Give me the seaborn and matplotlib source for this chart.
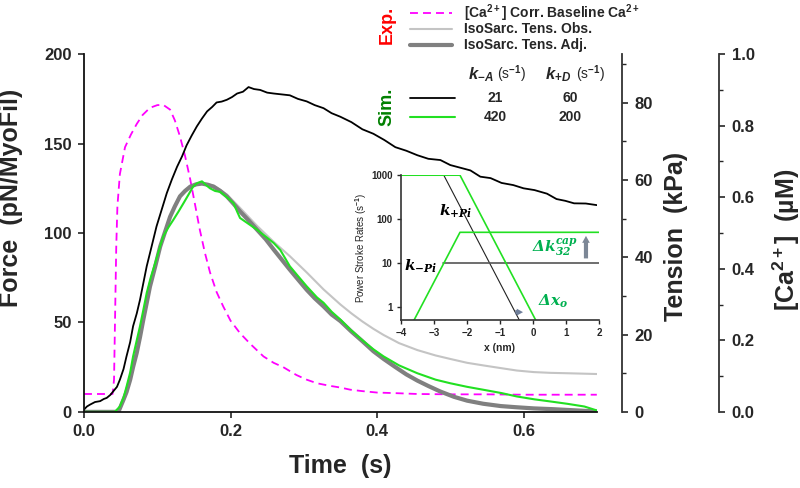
import seaborn as sns
import matplotlib.pyplot as plt
from matplotlib.lines import Line2D
from matplotlib.ticker import MultipleLocator, FixedLocator, FuncFormatter, FormatStrFormatter

# ---- experimental [Ca2+] (uM), baseline corrected ----
ca_time = [0, 0.039, 0.041, 0.044, 0.0456, 0.049, 0.056, 0.064, 0.072, 0.080, 0.090, 0.100, 0.108,
           0.1175, 0.124, 0.131, 0.138, 0.145, 0.152, 0.158, 0.165, 0.172, 0.181, 0.190, 0.200, 0.213,
           0.227, 0.245, 0.259, 0.272, 0.290, 0.304, 0.318, 0.335, 0.350, 0.3635, 0.38, 0.40, 0.43,
           0.455, 0.50, 0.55, 0.60, 0.65, 0.70]
ca_um = [0.05, 0.05, 0.09, 0.46, 0.575, 0.665, 0.74, 0.775, 0.805, 0.83, 0.85, 0.8575, 0.8585,
         0.845, 0.815, 0.77, 0.715, 0.65, 0.575, 0.51, 0.445, 0.39, 0.335, 0.295, 0.255, 0.22,
         0.19, 0.155, 0.137, 0.125, 0.103, 0.09, 0.08, 0.073, 0.068, 0.062, 0.058, 0.054, 0.052,
         0.05, 0.049, 0.049, 0.048, 0.048, 0.048]

# ---- experimental isometric tension (kPa) ----
obs_time = [0, 0.047, 0.054, 0.063, 0.072, 0.081, 0.090, 0.104, 0.1175, 0.131, 0.145, 0.161, 0.177,
            0.195, 0.213, 0.236, 0.259, 0.281, 0.304, 0.327, 0.35, 0.365, 0.38, 0.395, 0.409, 0.43,
            0.455, 0.48, 0.50, 0.523, 0.546, 0.57, 0.591, 0.614, 0.637, 0.66, 0.68, 0.70]
obs_kpa = [0, 0, 3.2, 8.3, 15.3, 23.9, 32.4, 42.8, 50.5, 55.8, 58.3, 59.1, 58.6, 56.3, 52.8, 48.2,
           44.0, 40.3, 36.1, 31.7, 27.8, 25.5, 23.4, 21.5, 19.9, 17.8, 16.0, 14.6, 13.7, 12.7, 12.0,
           11.3, 10.7, 10.3, 10.1, 10.0, 9.9, 9.8]

adj_time = [0, 0.047, 0.054, 0.058, 0.063, 0.067, 0.072, 0.0765, 0.081, 0.0856, 0.090, 0.097, 0.104,
            0.111, 0.1175, 0.124, 0.131, 0.138, 0.145, 0.153, 0.161, 0.169, 0.177, 0.186, 0.195,
            0.204, 0.213, 0.225, 0.236, 0.248, 0.259, 0.27, 0.281, 0.292, 0.304, 0.315, 0.327, 0.338,
            0.35, 0.365, 0.38, 0.395, 0.409, 0.425, 0.44, 0.455, 0.47, 0.486, 0.505, 0.523, 0.545,
            0.569, 0.59, 0.614, 0.64, 0.66, 0.68, 0.70]
adj_kpa = [0, 0, 3.2, 5.1, 8.3, 11.6, 15.3, 19.4, 23.9, 28.2, 32.4, 37.5, 42.8, 46.8, 50.5, 53.2,
           55.8, 57.2, 58.3, 58.9, 59.1, 58.8, 58.3, 57.2, 55.8, 53.9, 51.9, 49.5, 47.2, 44.7, 42.0,
           39.4, 36.8, 34.3, 31.6, 29.4, 27.3, 25.2, 23.5, 20.8, 18.3, 15.7, 13.7, 11.6, 9.7, 8.1,
           6.7, 5.3, 3.9, 2.9, 2.1, 1.5, 1.2, 0.9, 0.7, 0.5, 0.3, 0.1]

# ---- simulations (pN/MyoFil) ----
sim1_time = [0, 0.004, 0.008, 0.015, 0.022, 0.027, 0.031, 0.036, 0.040, 0.045, 0.049, 0.054, 0.058,
             0.063, 0.067, 0.072, 0.0765, 0.081, 0.0856, 0.092, 0.099, 0.106, 0.113, 0.120, 0.127,
             0.134, 0.140, 0.147, 0.154, 0.161, 0.168, 0.175, 0.181, 0.188, 0.195, 0.202, 0.209,
             0.217, 0.2246, 0.232, 0.2405, 0.25, 0.259, 0.27, 0.281, 0.292, 0.304, 0.315, 0.327,
             0.338, 0.35, 0.365, 0.38, 0.395, 0.41, 0.425, 0.44, 0.455, 0.47, 0.4865, 0.50, 0.5275,
             0.541, 0.555, 0.57, 0.586, 0.60, 0.615, 0.632, 0.645, 0.657, 0.669, 0.685, 0.70]
sim1_force = [1.3, 3, 4, 5.5, 6, 7.2, 7.8, 9.5, 11.5, 14, 18, 24, 31, 39, 47.9, 55, 62.8, 72, 81.4,
              92, 103.7, 113, 122.3, 130, 137, 143, 149, 154.5, 159.6, 164, 168, 170.5, 173, 173.5,
              174.5, 176, 178, 179, 181.6, 180.5, 180, 178.5, 178, 177.5, 177, 175, 173.6, 171.5,
              169.8, 167, 165, 162, 158, 155.5, 152, 148, 146, 143.5, 141.5, 140.8, 138, 135, 131.5,
              130.7, 128, 126.8, 125, 124, 122, 119, 118, 116.6, 116.5, 115.6]

sim2_time = [0, 0.042, 0.049, 0.054, 0.058, 0.063, 0.067, 0.072, 0.0765, 0.081, 0.0856, 0.091, 0.097,
             0.102, 0.108, 0.115, 0.122, 0.129, 0.136, 0.142, 0.149, 0.155, 0.161, 0.166, 0.172,
             0.179, 0.186, 0.195, 0.204, 0.209, 0.213, 0.225, 0.236, 0.248, 0.259, 0.268, 0.281,
             0.292, 0.304, 0.318, 0.327, 0.338, 0.35, 0.3635, 0.38, 0.395, 0.409, 0.43, 0.455, 0.48,
             0.50, 0.523, 0.546, 0.57, 0.591, 0.615, 0.637, 0.66, 0.683, 0.70]
sim2_force = [0, 0, 3, 8, 14, 22, 31, 40, 48, 57, 66.5, 75, 83, 90, 98, 103, 107.4, 112, 116.8, 121,
              126, 128, 128.9, 127, 125, 123.5, 123, 120, 116.8, 112, 108.4, 105, 101.9, 98, 94.4,
              90.5, 81.4, 76, 70.2, 64, 61, 56, 51.6, 46, 40, 35, 31, 26, 21.6, 18, 16, 14, 12.3,
              10.5, 8.6, 7, 5.8, 4.5, 3, 0.8]

# simulation parameters
k_minus_A = [21, 420]
k_plus_D = [60, 200]

# ---- inset: power stroke rate functions ----
kp_black_x = [-4, -2.70, -0.415]
kp_black_y = [1000, 1000, 0.5]
km_black_x = [-2.72, 2]
km_black_y = [10, 10]
kp_green_x = [-4, -2.21, 0.08]
kp_green_y = [1000, 1000, 0.5]
km_green_x = [-3.6, -2.21, 2]
km_green_y = [0.5, 50, 50]

MAG = "#ff00ff"
GREEN = "#22e022"
LGRAY = "#c4c4c4"
DGRAY = "#808080"
ANN = "#00b050"

sns.set_style("ticks")
plt.rcParams['font.family'] = ['Liberation Sans', 'DejaVu Sans']
plt.rcParams['font.weight'] = 'bold'
plt.rcParams['mathtext.fontset'] = 'custom'
plt.rcParams['mathtext.rm'] = 'Liberation Sans:bold'
plt.rcParams['mathtext.it'] = 'Liberation Sans:bold:italic'
plt.rcParams['mathtext.bf'] = 'Liberation Sans:bold'
plt.rcParams['mathtext.sf'] = 'Liberation Sans'
plt.rcParams['mathtext.cal'] = 'DejaVu Serif:bold:italic'

fig = plt.figure(figsize=(8, 4.88), dpi=100)
ax = fig.add_axes([0.105, 0.156, 0.641, 0.733])
ax_t = ax.twinx()
ax_ca = ax.twinx()
ax_ca.set_zorder(1)
ax_t.set_zorder(2)
ax.set_zorder(3)
ax.patch.set_visible(False)

sns.lineplot(x=ca_time, y=ca_um, ax=ax_ca, color=MAG, lw=1.3, estimator=None, sort=False)
ax_ca.lines[-1].set_dashes([4.4, 2.8])
sns.lineplot(x=obs_time, y=obs_kpa, ax=ax_t, color=LGRAY, lw=1.5, estimator=None, sort=False)
sns.lineplot(x=adj_time, y=adj_kpa, ax=ax_t, color=DGRAY, lw=3, estimator=None, sort=False)
sns.lineplot(x=sim1_time, y=sim1_force, ax=ax, color="black", lw=1.3, estimator=None, sort=False)
sns.lineplot(x=sim2_time, y=sim2_force, ax=ax, color=GREEN, lw=1.5, estimator=None, sort=False)

ax.set_xlim(0, 0.7)
ax.set_ylim(0, 200)
ax_t.set_ylim(0, 92.6)
ax_ca.set_ylim(0, 1)

for a in (ax, ax_t, ax_ca):
    a.spines['top'].set_visible(False)
ax.spines['right'].set_visible(False)
for s in ('left', 'bottom'):
    ax.spines[s].set_color('#111111')
    ax.spines[s].set_linewidth(1.3)
for a, off in ((ax_t, 18), (ax_ca, 88)):
    for s in ('left', 'bottom'):
        a.spines[s].set_visible(False)
    a.spines['right'].set_position(('outward', off))
    a.spines['right'].set_color('#333333')
    a.spines['right'].set_linewidth(1.3)

ax.xaxis.set_major_locator(MultipleLocator(0.2))
ax.xaxis.set_major_formatter(FormatStrFormatter('%.1f'))
ax.yaxis.set_major_locator(MultipleLocator(50))
ax.tick_params(axis='both', direction='out', length=4, width=1.2, labelsize=12, pad=5)
ax_t.yaxis.set_major_locator(MultipleLocator(20))
ax_t.yaxis.set_minor_locator(MultipleLocator(10))
ax_ca.yaxis.set_major_locator(MultipleLocator(0.2))
ax_ca.yaxis.set_minor_locator(MultipleLocator(0.1))
ax_ca.yaxis.set_major_formatter(FormatStrFormatter('%.1f'))
for a in (ax_t, ax_ca):
    a.tick_params(axis='y', which='major', direction='out', length=4, width=1.2, labelsize=12, pad=5)
    a.tick_params(axis='y', which='minor', direction='out', length=3, width=1.0)

ax.set_xlabel("Time  (s)", fontsize=18, fontweight='bold')
ax.set_ylabel("Force  (pN/MyoFil)", fontsize=18, fontweight='bold')
ax_t.set_ylabel("Tension  (kPa)", fontsize=18, fontweight='bold')
ax_ca.set_ylabel("[Ca$^{2+}$]  (\u00b5M)", fontsize=18, fontweight='bold')
ax.xaxis.set_label_coords(0.5, -0.118)
ax.yaxis.set_label_coords(-0.118, 0.598)
ax_t.yaxis.set_label_coords(1.132, 0.49)
ax_ca.yaxis.set_label_coords(1.338, 0.48)

# ---- inset ----
ins = fig.add_axes([0.501, 0.344, 0.248, 0.297])
ins.set_zorder(5)
ins.patch.set_visible(False)
sns.lineplot(x=kp_black_x, y=kp_black_y, ax=ins, color="#222222", lw=0.8, estimator=None, sort=False)
sns.lineplot(x=km_black_x, y=km_black_y, ax=ins, color="#555555", lw=1.2, estimator=None, sort=False)
sns.lineplot(x=kp_green_x, y=kp_green_y, ax=ins, color=GREEN, lw=1.2, estimator=None, sort=False)
sns.lineplot(x=km_green_x, y=km_green_y, ax=ins, color=GREEN, lw=1.2, estimator=None, sort=False)
ins.set_yscale('log')
ins.set_xlim(-4, 2)
ins.set_ylim(0.5, 1000)
ins.yaxis.set_major_locator(FixedLocator([1, 10, 100, 1000]))
ins.yaxis.set_minor_locator(FixedLocator([]))
ins.yaxis.set_major_formatter(FuncFormatter(lambda v, p: f"{v:g}"))
ins.xaxis.set_major_locator(MultipleLocator(1))
ins.tick_params(axis='both', direction='out', length=3, width=1.0, labelsize=7, pad=3)
for s in ('top', 'right'):
    ins.spines[s].set_visible(False)
for s in ('left', 'bottom'):
    ins.spines[s].set_color('#333333')
    ins.spines[s].set_linewidth(1.2)
ins.set_xlabel("x (nm)", fontsize=7.5, fontweight='bold')
ins.set_ylabel("Power Stroke Rates (s$^{\\mathsf{-1}}$)", fontsize=7, fontweight='normal')
ins.xaxis.set_label_coords(0.5, -0.16)
ins.yaxis.set_label_coords(-0.16, 0.5)

ins.text(-2.35, 150, "$\\mathcal{k_{+Pi}}$", fontsize=11, ha='center', va='center', color='black')
ins.text(-3.4, 8.3, "$\\mathcal{k_{-Pi}}$", fontsize=11, ha='center', va='center', color='black')
ins.text(0.65, 22, "$\\mathcal{\u0394k_{32}^{cap}}$", fontsize=11, ha='center', va='center', color=ANN)
ins.text(0.62, 1.35, "$\\mathcal{\u0394x_{o}}$", fontsize=11, ha='center', va='center', color=ANN)
ins.annotate("", xy=(1.6, 48), xytext=(1.6, 11),
             arrowprops=dict(arrowstyle="simple,head_width=0.55,head_length=0.5,tail_width=0.3",
                             color="#7c8796", lw=0))
ins.annotate("", xy=(-0.22, 0.76), xytext=(-0.62, 0.76),
             arrowprops=dict(arrowstyle="simple,head_width=0.5,head_length=0.45,tail_width=0.3",
                             color="#6f7f9a", lw=0))

# ---- legend (drawn by hand, two blocks) ----
def fx(px):
    return px / 800


def fy(py):
    return 1 - py / 488


fig.text(fx(387), fy(25), "Exp.", rotation=90, color="red", fontsize=13, ha='center', va='center')
fig.text(fx(387), fy(107), "Sim.", rotation=90, color="green", fontsize=13, ha='center', va='center')

exp_rows = [("[Ca$^{2+}$] Corr. Baseline Ca$^{2+}$", MAG, 1.3, (0, (4.4, 2.8)), 12.7),
            ("IsoSarc. Tens. Obs.", LGRAY, 1.5, '-', 29),
            ("IsoSarc. Tens. Adj.", DGRAY, 3, '-', 45)]
for label, col, lw, ls, py in exp_rows:
    fig.add_artist(Line2D([fx(410), fx(452)], [fy(py), fy(py)], color=col, lw=lw, ls=ls,
                          transform=fig.transFigure))
    fig.text(fx(464), fy(py), label, fontsize=10, ha='left', va='center')

fig.text(fx(468), fy(75), "$k_{-A}$", fontsize=12, ha='left', va='center')
fig.text(fx(497), fy(74), "(s$^{\\mathsf{-1}}$)", fontsize=10, fontweight='normal', ha='left', va='center')
fig.text(fx(545), fy(75), "$k_{+D}$", fontsize=12, ha='left', va='center')
fig.text(fx(576), fy(74), "(s$^{\\mathsf{-1}}$)", fontsize=10, fontweight='normal', ha='left', va='center')
for i, (col, lw, py) in enumerate((("black", 1.3, 98.3), (GREEN, 1.5, 116.7))):
    fig.add_artist(Line2D([fx(410), fx(455)], [fy(py), fy(py)], color=col, lw=lw,
                          transform=fig.transFigure))
    fig.text(fx(495), fy(py), str(k_minus_A[i]), fontsize=10, ha='center', va='center')
    fig.text(fx(570), fy(py), str(k_plus_D[i]), fontsize=10, ha='center', va='center')

fig.savefig("out.png", dpi=100)
